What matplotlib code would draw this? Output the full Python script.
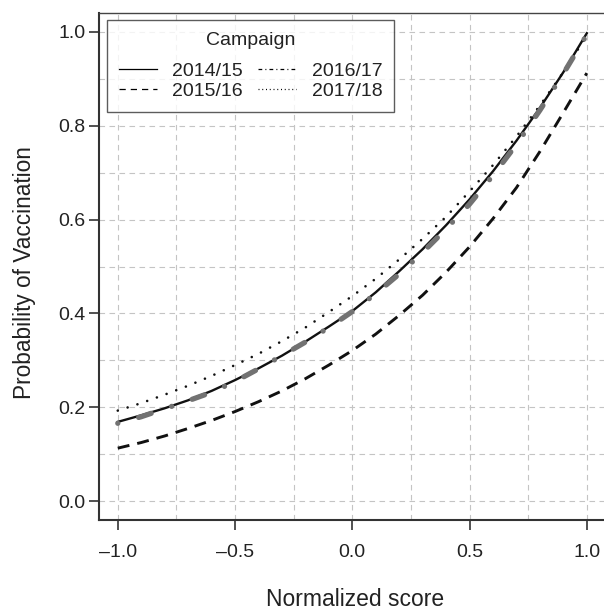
import matplotlib
matplotlib.use("Agg")
import matplotlib.pyplot as plt
from matplotlib.lines import Line2D

plt.rcParams['font.family'] = ['Liberation Sans', 'DejaVu Sans']

# ---- data ----
score = [-1.0, -0.9, -0.8, -0.7, -0.6, -0.5, -0.4, -0.3, -0.2, -0.1, 0.0,
         0.1, 0.2, 0.3, 0.4, 0.5, 0.6, 0.7, 0.8, 0.9, 1.0]
p_2014_15 = [0.169, 0.183, 0.198, 0.215, 0.235, 0.258, 0.283, 0.310, 0.340, 0.372, 0.405,
             0.445, 0.490, 0.537, 0.588, 0.643, 0.703, 0.768, 0.838, 0.914, 0.997]
p_2015_16 = [0.113, 0.125, 0.139, 0.155, 0.172, 0.191, 0.212, 0.235, 0.261, 0.290, 0.321,
             0.356, 0.396, 0.439, 0.488, 0.542, 0.602, 0.668, 0.745, 0.828, 0.912]
p_2016_17 = [0.166, 0.180, 0.197, 0.214, 0.232, 0.255, 0.282, 0.310, 0.339, 0.370, 0.404,
             0.442, 0.484, 0.530, 0.580, 0.633, 0.694, 0.760, 0.833, 0.911, 0.994]
p_2017_18 = [0.193, 0.209, 0.227, 0.246, 0.267, 0.290, 0.314, 0.341, 0.370, 0.403, 0.437,
             0.474, 0.515, 0.559, 0.606, 0.660, 0.716, 0.777, 0.843, 0.914, 0.992]
campaigns = ['2014/15', '2015/16', '2016/17', '2017/18']
x_ticks = [-1.0, -0.5, 0.0, 0.5, 1.0]
y_ticks = [0.0, 0.2, 0.4, 0.6, 0.8, 1.0]

W, H = 604, 610
AX_L, AX_W, AX_B, AX_H = 99, 506.6, 90, 507
BOT_IMG = H - AX_B          # image-pixel row of the bottom spine


def ax_x(px):
    return (px - AX_L) / AX_W


def ax_y(py):
    return (BOT_IMG - py) / AX_H


fig = plt.figure(figsize=(W / 100, H / 100), dpi=100)
ax = fig.add_axes([AX_L / W, AX_B / H, AX_W / W, AX_H / H])
ax.set_xlim(-1.08, 1.08)
ax.set_ylim(-0.04, 1.04)

# grid
for gx in [-1.0, -0.75, -0.5, -0.25, 0.0, 0.25, 0.5, 0.75, 1.0]:
    ax.axvline(gx, color='#c4c4c4', lw=0.8, ls=(0, (5, 4)), zorder=0)
for gy in [0.0, 0.1, 0.2, 0.3, 0.4, 0.5, 0.6, 0.7, 0.8, 0.9, 1.0]:
    ax.axhline(gy, color='#c4c4c4', lw=0.8, ls=(0, (5, 4)), zorder=0)

# curves
ax.plot(score, p_2015_16, color='#111111', lw=2.1, ls=(0, (4.1, 2.75)), zorder=3)
ax.plot(score, p_2017_18, color='#111111', lw=1.9, ls=(0, (0.01, 3.9)),
        dash_capstyle='round', zorder=3)
ax.plot(score, p_2014_15, color='#111111', lw=1.7, zorder=3)
ax.plot(score, p_2016_17, color='#727272', lw=3.8, ls=(0, (0.01, 4.1, 2.5, 4.1)),
        dash_capstyle='round', zorder=4)

# axes styling
for s in ['left', 'bottom']:
    ax.spines[s].set_linewidth(1.5)
    ax.spines[s].set_color('#333333')
ax.spines['top'].set_linewidth(1.0)
ax.spines['top'].set_color('#444444')
ax.spines['right'].set_visible(False)

ax.set_xticks(x_ticks)
ax.set_yticks(y_ticks)
ax.set_xticklabels([f"{v:.1f}".replace('-', '\u2013') for v in x_ticks])
ax.set_yticklabels([f"{v:.1f}" for v in y_ticks])
ax.tick_params(axis='both', direction='out', length=7, width=1.2, color='#333333',
               labelsize=14, labelcolor='#222222')
ax.tick_params(axis='x', pad=10)
ax.tick_params(axis='y', pad=2.5)

ax.set_xlabel('Normalized score', fontsize=16.5, color='#222222', va='baseline')
ax.xaxis.set_label_coords(ax_x(355), ax_y(606))
ax.set_ylabel('Probability of Vaccination', fontsize=16.3, color='#222222',
              va='center', ha='center')
ax.yaxis.set_label_coords(ax_x(25), ax_y(273))

# legend
handles = [
    Line2D([], [], color='black', lw=0.9),
    Line2D([], [], color='black', lw=0.9, ls=(0, (5, 4))),
    Line2D([], [], color='black', lw=0.9, ls=(0, (3, 2.5, 0.8, 2.5))),
    Line2D([], [], color='black', lw=0.9, ls=(0, (0.8, 2.2))),
]
leg = ax.legend(handles, campaigns, title='Campaign', ncol=2, loc='upper left',
                bbox_to_anchor=(ax_x(107), ax_y(20)), borderaxespad=0,
                fontsize=14, title_fontsize=14, frameon=True, fancybox=False,
                handlelength=1.95, handletextpad=0.8, columnspacing=0.8,
                labelspacing=0.12, borderpad=0.6)
leg._legend_box.sep = 10
leg.get_frame().set_edgecolor('#333333')
leg.get_frame().set_linewidth(1.0)
for t in leg.get_texts():
    t.set_color('#222222')
leg.get_title().set_color('#222222')

fig.savefig('out.png', dpi=100)
